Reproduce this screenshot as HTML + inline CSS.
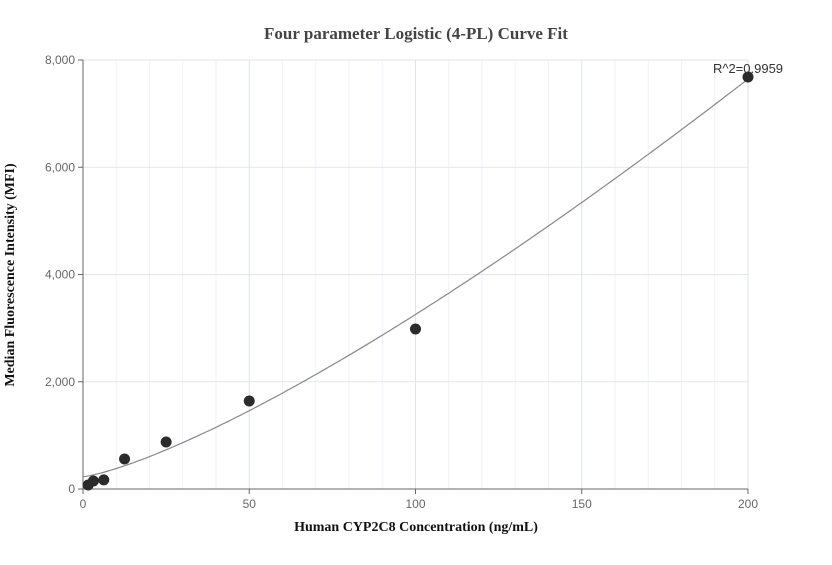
<!DOCTYPE html>
<html><head><meta charset="utf-8"><style>
body{margin:0;background:#fff}
svg text{font-family:"Liberation Sans",sans-serif}
</style></head><body>
<svg id="chart" width="832" height="560" xmlns="http://www.w3.org/2000/svg">
<text x="416" y="39" text-anchor="middle" font-family="Liberation Serif" style="font-family:'Liberation Serif',serif" font-weight="bold" font-size="17" fill="#444">Four parameter Logistic (4-PL) Curve Fit</text>
<text x="416" y="531" text-anchor="middle" style="font-family:'Liberation Serif',serif" font-weight="bold" font-size="14" fill="#111">Human CYP2C8 Concentration (ng/mL)</text>
<text transform="translate(14,275) rotate(-90)" text-anchor="middle" style="font-family:'Liberation Serif',serif" font-weight="bold" font-size="14" fill="#111">Median Fluorescence Intensity (MFI)</text>
<g id="grid"></g><g id="axes"></g><g id="curve"></g><g id="points"></g>
<text x="748" y="73" text-anchor="middle" font-size="13" fill="#333">R^2=0.9959</text>
</svg>
<script>
const xValues=[1.5625,3.125,6.25,12.5,25,50,100,200];
const yValues=[75,150,170,560,876,1641,2984,7683];
const xTicks=[0,50,100,150,200];
const yTicks=[0,2000,4000,6000,8000];
const fitParams=[230,1.30,8647,1000000]; // a,b,c,d
const X0=83,X1=748,Y0=489,Y1=60;
const sx=v=>X0+(v/200)*(X1-X0), sy=v=>Y0-(v/8000)*(Y0-Y1);
const NS="http://www.w3.org/2000/svg";
function mk(t,a,p){const e=document.createElementNS(NS,t);for(const k in a)e.setAttribute(k,a[k]);p.appendChild(e);return e;}
const grid=document.getElementById('grid'),axes=document.getElementById('axes');
for(let v=10;v<=200;v+=10){const l=mk('line',{x1:sx(v),x2:sx(v),y1:Y1,y2:Y0,stroke:v%50==0?'#e0e3ee':'#f0f2fa','stroke-width':1},grid);

}
yTicks.forEach(v=>{if(v>0){const l=mk('line',{x1:X0,x2:X1,y1:sy(v),y2:sy(v),stroke:'#e0e6f1'},grid);

}
const t=mk('text',{x:X0-8,y:sy(v)+4,'text-anchor':'end','font-size':12,fill:'#666'},axes);t.textContent=v.toLocaleString('en-US');


mk('line',{x1:X0-5,x2:X0,y1:sy(v),y2:sy(v),stroke:'#666'},axes);});
xTicks.forEach(v=>{const t=mk('text',{x:sx(v),y:Y0+19,'text-anchor':'middle','font-size':12,fill:'#666'},axes);t.textContent=v;


mk('line',{x1:sx(v),x2:sx(v),y1:Y0,y2:Y0+5,stroke:'#666'},axes);});
const ya=mk('line',{x1:X0,x2:X0,y1:Y1,y2:Y0,stroke:'#666'},axes);


const xa=mk('line',{x1:X0,x2:X1,y1:Y0,y2:Y0,stroke:'#666'},axes);


const [a,b,c,d]=fitParams;const f=x=>d+(a-d)/(1+Math.pow(x/c,b));
let dd='';for(let i=0;i<=200;i++){const x=i;dd+=(i?'L':'M')+sx(x).toFixed(1)+','+sy(f(x)).toFixed(1);}
const cp=mk('path',{d:dd,fill:'none',stroke:'#888','stroke-width':1.2},document.getElementById('curve'));


xValues.forEach((x,i)=>{const p=mk('circle',{cx:sx(x),cy:sy(yValues[i]),r:5.5,fill:'#2b2b2b'},document.getElementById('points'));

});
</script>
</body></html>
